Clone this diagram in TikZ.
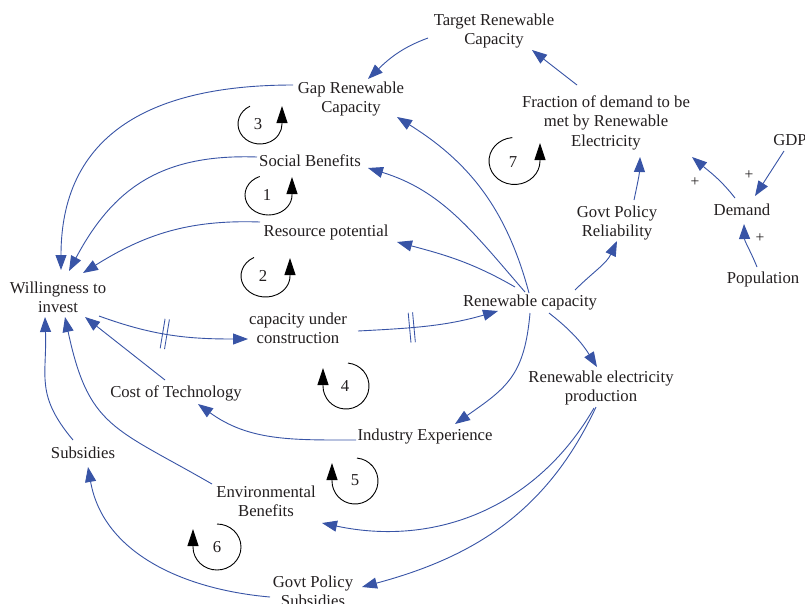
\documentclass[tikz,border=0pt]{standalone}
\usepackage{fontspec}
\setmainfont{Liberation Serif}
\usetikzlibrary{arrows.meta,decorations.markings,calc}
\definecolor{lnk}{RGB}{56,84,166}
\definecolor{txt}{RGB}{35,31,32}
\begin{document}
\begin{tikzpicture}[x=1pt,y=1pt,
  lbl/.style={font=\fontsize{16.7}{19.5}\selectfont, align=center, inner sep=0pt, text=txt,
    execute at begin node=\strut, execute at end node=\strut},
  sgn/.style={font=\fontsize{15.5}{17}\selectfont, inner sep=0pt, text=txt},
  link/.style={draw=lnk, line width=0.9pt, -{Triangle[length=15pt,width=11pt]}},
  loopline/.style={draw=black, line width=0.9pt, -{Triangle[length=17pt,width=11pt]}},
  delay/.style={postaction={decorate}, decoration={markings,
    mark=at position #1 with {\draw[lnk, line width=0.85pt, -] (-2.2,-15) -- (-2.2,15) (2.2,-15) -- (2.2,15);}}}
]
\fill[white] (0,0) rectangle (805,-603);
\useasboundingbox (0,0) rectangle (805,-603);

% nodes
\node[lbl] (target) at (494,-32) {Target Renewable\\Capacity};
\node[lbl] (gap) at (351,-100) {Gap Renewable\\Capacity};
\node[lbl] (frac) at (606,-124) {Fraction of demand to be\\met by Renewable\\Electricity};
\node[lbl] (social) at (310,-163) {Social Benefits};
\node[lbl] (resource) at (326,-233) {Resource potential};
\node[lbl] (will) at (58,-300) {Willingness to\\invest};
\node[lbl] (rcap) at (530,-303) {Renewable capacity};
\node[lbl] (cuc) at (298,-331) {capacity under\\construction};
\node[lbl] (cost) at (176,-394) {Cost of Technology};
\node[lbl] (indexp) at (425,-437) {Industry Experience};
\node[lbl] (rep) at (601,-389) {Renewable electricity\\production};
\node[lbl] (subs) at (83,-455) {Subsidies};
\node[lbl] (env) at (266,-504) {Environmental\\Benefits};
\node[lbl] (gps) at (313,-594) {Govt Policy\\Subsidies};
\node[lbl] (gpr) at (617,-224) {Govt Policy\\Reliability};
\node[lbl] (demand) at (742,-212) {Demand};
\node[lbl] (pop) at (763,-280) {Population};
\node[lbl] (gdp) at (790,-142) {GDP};

% loop numbers
\node[lbl] (n3) at (258,-125.5) {3};
\node[lbl] (n1) at (267,-196.5) {1};
\node[lbl] (n2) at (263,-277.5) {2};
\node[lbl] (n7) at (513,-163.5) {7};
\node[lbl] (n4) at (345,-387.5) {4};
\node[lbl] (n5) at (355,-481.5) {5};
\node[lbl] (n6) at (217,-548.5) {6};

% loop centres
\coordinate (c3) at (260,-124);
\coordinate (c1) at (268.5,-195);
\coordinate (c2) at (265.5,-276);
\coordinate (c7) at (514.5,-161);
\coordinate (c4) at (346,-386);
\coordinate (c5) at (355,-481);
\coordinate (c6) at (217,-547);

\draw[loopline] ($(c3)+(117:22 and 20)$) arc[start angle=117, end angle=360, x radius=22, y radius=20] -- ++(0,18);
\draw[loopline] ($(c1)+(112:23.5 and 20)$) arc[start angle=112, end angle=360, x radius=23.5, y radius=20] -- ++(0,18);
\draw[loopline] ($(c2)+(118:24.5 and 21)$) arc[start angle=118, end angle=360, x radius=24.5, y radius=21] -- ++(0,18);
\draw[loopline] ($(c7)+(95:25.5 and 23.5)$) arc[start angle=95, end angle=360, x radius=25.5, y radius=23.5] -- ++(0,18);
\draw[loopline] ($(c4)+(85:23 and 23)$) arc[start angle=85, end angle=-180, x radius=23, y radius=23] -- ++(0,18);
\draw[loopline] ($(c5)+(85:23 and 23)$) arc[start angle=85, end angle=-180, x radius=23, y radius=23] -- ++(0,18);
\draw[loopline] ($(c6)+(90:24 and 23)$) arc[start angle=90, end angle=-180, x radius=24, y radius=23] -- ++(0,18);

% connectors
\draw[link] ([shift={(-66,-6)}]target.center) to[out=200,in=44] ([shift={(17,21)}]gap.center);
\draw[link] ([shift={(-29,39)}]frac.center) -- ([shift={(38,-18)}]target.center);
\draw[link] ([shift={(-1,10)}]rcap.center) to[out=105,in=-32] ([shift={(46,-17)}]gap.center);
\draw[link] ([shift={(-5,11)}]rcap.center) to[out=131,in=-17] ([shift={(58,-5)}]social.center);
\draw[link] ([shift={(-15,16)}]rcap.center) to[out=150,in=-15] ([shift={(71,-9)}]resource.center);
\draw[link] ([shift={(45,13)}]rcap.center) to[out=45,in=-115] ([shift={(0,-17)}]gpr.center);
\draw[link] ([shift={(17,24)}]gpr.center) to[out=78,in=-92] ([shift={(34,-33)}]frac.center);
\draw[link] ([shift={(-7,14)}]demand.center) to[out=128,in=-40] ([shift={(86,-33)}]frac.center);
\draw[link] ([shift={(-6,-9)}]gdp.center) -- ([shift={(13,16)}]demand.center);
\draw[link] ([shift={(-6,13)}]pop.center) to[out=112,in=-88] ([shift={(2,-12)}]demand.center);
\draw[link] ([shift={(19,-10)}]rcap.center) to[out=-38,in=122] ([shift={(-4,22)}]rep.center);
\draw[link] ([shift={(0,-10)}]rcap.center) to[out=-95,in=35,looseness=1.2] ([shift={(30,13)}]indexp.center);
\draw[link] ([shift={(-7,-19)}]rep.center) to[out=-120,in=-12] ([shift={(56,-19)}]env.center);
\draw[link] ([shift={(-5,-18)}]rep.center) to[out=-115,in=15] ([shift={(49,7)}]gps.center);
\draw[link] ([shift={(-43,-3)}]gps.center) to[out=175,in=-80] ([shift={(5,-12)}]subs.center);
\draw[link] ([shift={(-10,15)}]subs.center) to[out=130,in=-88,looseness=1.2] ([shift={(-13,-17)}]will.center);
\draw[link] ([shift={(-54,20)}]env.center) to[out=150,in=-78,looseness=1.3] ([shift={(7,-17)}]will.center);
\draw[link] ([shift={(-11,14)}]cost.center) -- ([shift={(27,-17)}]will.center);
\draw[link] ([shift={(-69,-3)}]indexp.center) to[out=180,in=-36] ([shift={(22,-10)}]cost.center);
\draw[link, delay=0.45] ([shift={(41,-16)}]will.center) to[out=-20,in=180] ([shift={(-50,-8)}]cuc.center);
\draw[link, delay=0.38] ([shift={(60,0)}]cuc.center) to[out=3,in=196] ([shift={(-32,-8)}]rcap.center);
\draw[link] ([shift={(-58,15)}]gap.center) .. controls +(-128,0) and +(0,145) .. ([shift={(3,30)}]will.center);
\draw[link] ([shift={(-53,6)}]social.center) to[out=178,in=62,looseness=1.1] ([shift={(11,29)}]will.center);
\draw[link] ([shift={(-66,11)}]resource.center) to[out=178,in=32] ([shift={(25,27)}]will.center);

% polarity signs
\node[sgn] (p1) at (695,-182) {+};
\node[sgn] (p2) at (749,-175) {+};
\node[sgn] (p3) at (760,-238) {+};
\end{tikzpicture}
\end{document}
